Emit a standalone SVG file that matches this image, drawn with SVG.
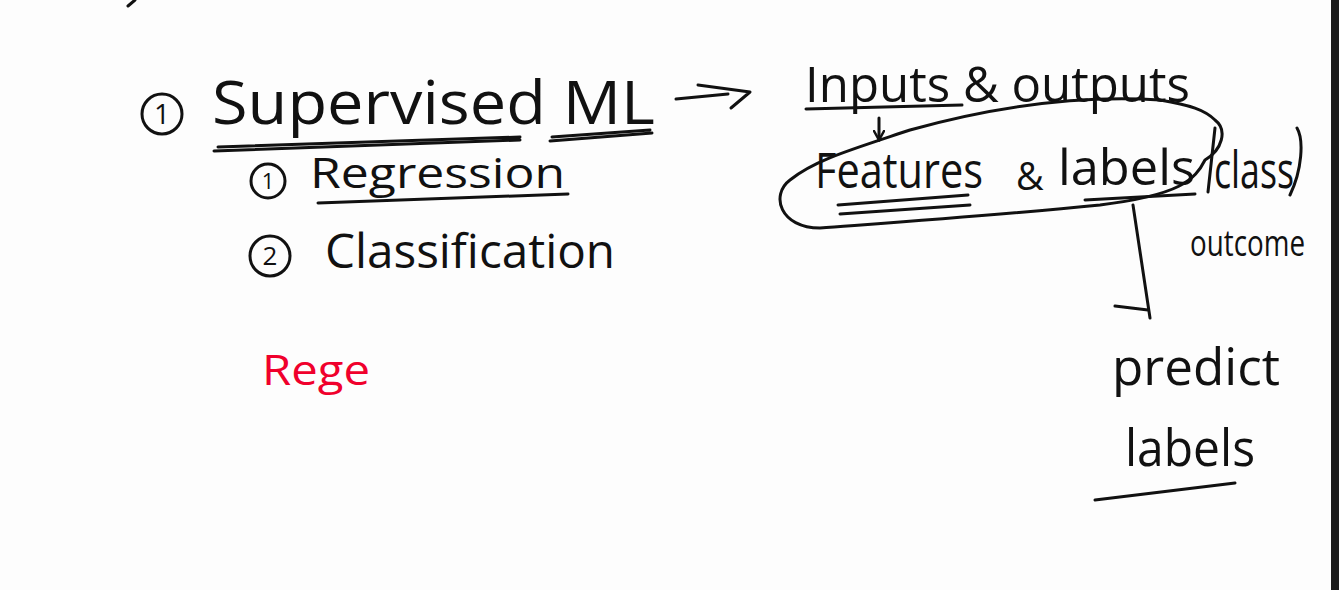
<svg xmlns="http://www.w3.org/2000/svg" width="1339" height="590" viewBox="0 0 1339 590">
<style>
.t{font-family:"Open Sans","Liberation Sans",sans-serif;fill:#111;}
.s{fill:none;stroke:#111;stroke-width:3;stroke-linecap:round;stroke-linejoin:round;}
.r{font-family:"Open Sans","Liberation Sans",sans-serif;fill:#f0002c;}
</style>
<defs>
<marker id="ah" viewBox="0 0 12 12" refX="10" refY="6" markerWidth="12" markerHeight="12" markerUnits="userSpaceOnUse" orient="auto">
<path d="M1,1 L10,6 L1,11" fill="none" stroke="#111" stroke-width="2.5" stroke-linecap="round"/>
</marker>
</defs>
<rect width="1339" height="590" fill="#fdfdfd"/>
<rect x="1331" y="0" width="8" height="590" fill="#1b1b1b"/>
<path class="s" d="M128,6 L135,0"/>

<g id="supervised">
<circle class="s" cx="162" cy="114" r="20"/>
<text class="t" x="162" y="124" font-size="28" text-anchor="middle">1</text>
<text class="t" x="212" y="124" font-size="60" textLength="443" lengthAdjust="spacingAndGlyphs">Supervised ML</text>
<path class="s" d="M214,151 L520,140 M218,147 L520,137 M550,141 L652,133 M552,137 L650,130"/>
</g>

<g id="regression">
<circle class="s" cx="268" cy="181" r="17"/>
<text class="t" x="268" y="189" font-size="22" text-anchor="middle">1</text>
<text class="t" x="310" y="188" font-size="42" textLength="255" lengthAdjust="spacingAndGlyphs">Regression</text>
<path class="s" d="M318,203 L568,194"/>
</g>

<g id="classification">
<circle class="s" cx="270" cy="256" r="20"/>
<text class="t" x="270" y="265" font-size="26" text-anchor="middle">2</text>
<text class="t" x="325" y="268" font-size="48" textLength="290" lengthAdjust="spacingAndGlyphs">Classification</text>
</g>

<g id="inputs">
<text class="t" x="805" y="102" font-size="50" textLength="385" lengthAdjust="spacingAndGlyphs">Inputs &amp; outputs</text>
<path class="s" d="M806,109 L962,105"/>
</g>

<g id="features">
<path class="s" d="M1215,120 C1228,130 1222,150 1205,160 C1195,180 1180,195 1100,205 C1000,215 900,222 820,228 C780,228 770,195 790,180 C815,160 850,150 910,130 C1000,105 1080,95 1160,100 C1190,105 1205,110 1215,120"/>
<text class="t" x="815" y="188" font-size="50" textLength="168" lengthAdjust="spacingAndGlyphs">Features</text>
<text class="t" x="1016" y="190" font-size="38">&amp;</text>
<text class="t" x="1058" y="185" font-size="50" textLength="137" lengthAdjust="spacingAndGlyphs">labels</text>
<path class="s" d="M838,205 L968,195 M840,214 L970,205 M1085,200 L1195,194"/>
<path class="s" d="M1215,128 L1208,192 M1297,128 C1304,140 1302,170 1290,195"/>
<text class="t" x="1214" y="188" font-size="52" textLength="80" lengthAdjust="spacingAndGlyphs">class</text>
<text class="t" x="1190" y="256" font-size="36" textLength="115" lengthAdjust="spacingAndGlyphs">outcome</text>
</g>

<g id="predict">
<text class="t" x="1112" y="385" font-size="52" textLength="168" lengthAdjust="spacingAndGlyphs">predict</text>
<text class="t" x="1125" y="466" font-size="52" textLength="130" lengthAdjust="spacingAndGlyphs">labels</text>
<path class="s" d="M1095,500 L1235,483"/>
</g>

<g id="rege">
<text class="r" x="262" y="385" font-size="42" textLength="108" lengthAdjust="spacingAndGlyphs">Rege</text>
</g>

<g id="connectors">
<path class="s" d="M676,99 L728,94 M698,85 L750,92 L731,108"/>
<path class="s" d="M879,118 L879,140" marker-end="url(#ah)"/>
<path class="s" d="M1133,205 L1150,318 M1115,306 L1148,310"/>
</g>
</svg>
